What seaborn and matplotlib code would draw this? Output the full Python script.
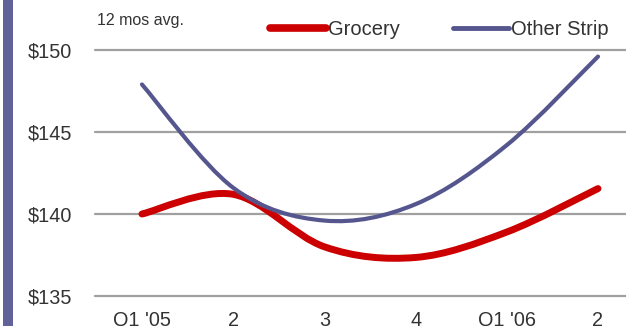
import numpy as np
import pandas as pd
import matplotlib
matplotlib.use("Agg")
import matplotlib.pyplot as plt
import seaborn as sns
from matplotlib.path import Path
from matplotlib.patches import PathPatch, Rectangle
from matplotlib.lines import Line2D

# Quarterly 12-month average spend
quarters = ["Q1 '05", "2", "3", "4", "Q1 '06", "2"]
grocery = [140.0, 141.2, 138.0, 137.35, 138.9, 141.55]
other_strip = [147.9, 141.6, 139.6, 140.6, 144.2, 149.6]
series_names = ["Grocery", "Other Strip"]
y_ticks = [135, 140, 145, 150]

colors = {"Grocery": "#cc0000", "Other Strip": "#56568f"}
widths = {"Grocery": 5.0, "Other Strip": 3.0}
zorders = {"Grocery": 3, "Other Strip": 4}
text_color = "#333333"

sns.set_theme(style="white")
plt.rcParams["font.family"] = ["Liberation Sans", "DejaVu Sans"]

df = pd.DataFrame({
    "pos": list(range(len(quarters))) * 2,
    "value": grocery + other_strip,
    "series": [series_names[0]] * len(grocery) + [series_names[1]] * len(other_strip),
})


def smooth_path(x, y):
    """Cubic Bezier path through the points (spreadsheet-style smoothed line)."""
    pts = np.column_stack([x, y]).astype(float)
    n = len(pts)
    verts = [pts[0]]
    codes = [Path.MOVETO]
    for i in range(n - 1):
        p0 = pts[max(i - 1, 0)]
        p1 = pts[i]
        p2 = pts[i + 1]
        p3 = pts[min(i + 2, n - 1)]
        c1 = p1 + (p2 - p0) / 6.0
        c2 = p2 - (p3 - p1) / 6.0
        verts += [c1, c2, p2]
        codes += [Path.CURVE4] * 3
    return Path(verts, codes)


fig = plt.figure(figsize=(6.26, 3.26), dpi=100)
fig.patch.set_facecolor("white")

# purple accent bar on the left edge
fig.patches.append(Rectangle((3 / 626, 0), 10 / 626, 1, transform=fig.transFigure,
                             facecolor="#62629a", edgecolor="none", zorder=0))

ax = fig.add_axes([95 / 626, 30 / 326, 531 / 626, 246 / 326])
sns.lineplot(data=df, x="pos", y="value", hue="series", hue_order=series_names,
             palette=colors, ax=ax, legend=False)

# replace the straight segments with smoothed curves through the same points
for name, line in zip(series_names, list(ax.lines)):
    xs, ys = line.get_xdata(), line.get_ydata()
    patch = PathPatch(smooth_path(xs, ys), fill=False, edgecolor=colors[name],
                      linewidth=widths[name], capstyle="round", joinstyle="round",
                      zorder=zorders[name])
    ax.add_patch(patch)
    line.set_visible(False)

ax.set_xlim(-0.515, 5.307)
ax.set_ylim(135, 150)
ax.set_xticks(range(len(quarters)))
ax.set_xticklabels(quarters)
ax.set_yticks(y_ticks)
ax.set_yticklabels([f"${v}" for v in y_ticks])
ax.set_xlabel("")
ax.set_ylabel("")

ax.grid(axis="y", color="#a0a0a0", linewidth=1.6)
ax.grid(axis="x", visible=False)
for gl in ax.yaxis.get_gridlines():
    gl.set_clip_on(False)
for s in ax.spines.values():
    s.set_visible(False)
ax.tick_params(axis="y", length=0, pad=16.5, labelsize=14.3, labelcolor=text_color)
ax.tick_params(axis="x", length=0, pad=10.5, labelsize=14.3, labelcolor=text_color)
ax.set_facecolor("none")

handles = [Line2D([], [], color=colors[n], linewidth=widths[n] + 0.5,
                  solid_capstyle="round") for n in series_names]
fig.legend(handles, series_names, loc="upper left",
           bbox_to_anchor=(270 / 626, 1 - 20 / 326), ncol=2, frameon=False,
           borderpad=0, borderaxespad=0, handlelength=2.76, handletextpad=0.1,
           columnspacing=2.66, fontsize=14.5, labelcolor=text_color)

fig.text(97 / 626, 1 - 20 / 326, "12 mos avg.", fontsize=11.5, color=text_color,
         ha="left", va="center")

fig.savefig("out.png", dpi=100)
